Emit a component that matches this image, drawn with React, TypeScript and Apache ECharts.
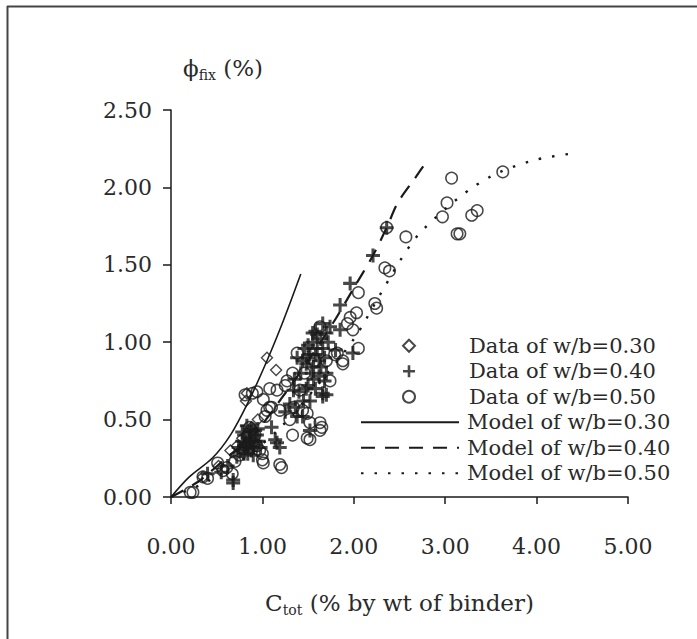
import React, { useEffect, useRef } from "react";
import * as echarts from "echarts";

const xTicks = [0, 1, 2, 3, 4, 5];
const yTicks = [0, 0.5, 1, 1.5, 2, 2.5];

const data030: number[][] = [
  [0.35, 0.13], [0.52, 0.2], [0.65, 0.3], [0.78, 0.38], [0.83, 0.67], [0.82, 0.62],
  [0.88, 0.45], [0.95, 0.5], [1.05, 0.9], [1.15, 0.82], [0.9, 0.35], [0.72, 0.33],
];

const data040: number[][] = [
  [2.21, 1.56], [2.36, 1.74], [1.96, 1.38], [1.85, 1.24], [1.58, 1.07], [1.99, 0.93],
  [1.85, 1.08], [1.55, 1.06], [1.38, 0.9], [1.66, 0.67], [1.7, 0.66], [1.38, 0.52],
  [1.52, 0.43], [1.14, 0.37], [1.19, 0.32], [1.16, 0.35], [0.68, 0.11], [0.4, 0.15],
  [0.68, 0.09], [1.34, 0.69], [1.66, 0.65],
  [0.76, 0.3], [0.8, 0.28], [0.84, 0.33], [0.88, 0.3], [0.92, 0.36], [0.8, 0.4],
  [0.86, 0.42], [0.95, 0.44], [0.98, 0.32], [0.78, 0.36], [0.9, 0.27], [0.83, 0.46], [0.72, 0.26],
  [0.82, 0.35], [0.86, 0.38], [0.9, 0.32], [0.94, 0.4], [0.78, 0.42], [0.88, 0.44],
  [0.96, 0.36], [0.74, 0.32], [0.84, 0.28], [0.8, 0.33], [0.87, 0.35], [0.92, 0.43],
  [1.42, 0.8], [1.48, 0.86], [1.52, 0.92], [1.56, 0.84], [1.6, 0.96], [1.64, 1.02],
  [1.68, 0.9], [1.72, 1.0], [1.74, 1.1], [1.62, 0.78], [1.5, 0.72], [1.45, 0.62],
  [1.58, 0.7], [1.7, 0.8], [1.46, 0.96], [1.35, 0.76], [1.66, 1.12], [1.55, 1.0],
  [1.44, 0.88], [1.5, 0.98], [1.58, 0.92], [1.62, 0.88], [1.66, 0.96], [1.7, 1.06],
  [1.54, 0.8], [1.48, 0.7], [1.4, 0.68], [1.6, 1.05], [1.68, 0.75], [1.52, 0.62],
  [1.44, 0.52], [1.36, 0.58], [1.56, 0.76], [1.64, 0.84], [1.5, 0.9],
  [1.25, 0.55], [1.1, 0.45], [0.62, 0.2], [0.55, 0.16], [1.8, 0.95], [1.3, 0.6],
];

const data050: number[][] = [
  [0.24, 0.03], [0.21, 0.03], [0.35, 0.13], [0.4, 0.12], [0.51, 0.22], [0.57, 0.17],
  [0.61, 0.19], [0.67, 0.15], [0.7, 0.23], [0.75, 0.27], [0.81, 0.66], [0.89, 0.67],
  [0.94, 0.68], [1.01, 0.63], [1.05, 0.56], [1.03, 0.52], [1.08, 0.58], [1.1, 0.58],
  [0.86, 0.45], [0.97, 0.3], [1.0, 0.24], [1.0, 0.28], [1.01, 0.22], [1.19, 0.21],
  [1.21, 0.19], [1.16, 0.69], [1.08, 0.7], [1.25, 0.72], [1.27, 0.75], [1.33, 0.8],
  [1.41, 0.69], [1.19, 0.56], [1.3, 0.5], [1.34, 0.58], [1.33, 0.4], [1.44, 0.56],
  [1.49, 0.54], [1.49, 0.38], [1.52, 0.48], [1.52, 0.37], [1.63, 0.48], [1.65, 0.45],
  [1.63, 0.43], [1.74, 0.75], [1.7, 0.88], [1.79, 0.92], [1.82, 0.93], [1.88, 0.88],
  [1.88, 0.86], [1.38, 0.93], [1.63, 1.1], [1.93, 1.12], [1.96, 1.16], [1.99, 1.08],
  [2.03, 1.19], [2.05, 0.96], [2.05, 1.32], [2.23, 1.25], [2.25, 1.22], [2.34, 1.48],
  [2.39, 1.46], [2.36, 1.74], [2.57, 1.68], [2.97, 1.81], [3.02, 1.9], [3.07, 2.06],
  [3.13, 1.7], [3.16, 1.7], [3.29, 1.82], [3.35, 1.85], [3.63, 2.1], [0.85, 0.35], [0.92, 0.4],
  [0.79, 0.31], [0.94, 0.33], [1.46, 0.8], [1.57, 0.88],
];

const model030: number[][] = [
  [0, 0], [0.2, 0.13], [0.45, 0.25], [0.65, 0.4], [0.85, 0.62], [1.05, 0.88], [1.23, 1.14], [1.42, 1.44],
];
const model040: number[][] = [
  [0, 0], [0.3, 0.1], [0.6, 0.25], [0.9, 0.4], [1.2, 0.63], [1.5, 0.88], [1.8, 1.15],
  [2.0, 1.35], [2.2, 1.55], [2.36, 1.74], [2.48, 1.9], [2.67, 2.06], [2.8, 2.17],
];
const model050: number[][] = [
  [0, 0], [0.4, 0.1], [0.8, 0.25], [1.2, 0.45], [1.6, 0.72], [2.0, 1.02], [2.3, 1.32],
  [2.5, 1.52], [2.7, 1.69], [3.0, 1.86], [3.3, 2.0], [3.6, 2.1], [4.0, 2.18], [4.4, 2.22],
];

const names = [
  "Data of w/b=0.30", "Data of w/b=0.40", "Data of w/b=0.50",
  "Model of w/b=0.30", "Model of w/b=0.40", "Model of w/b=0.50",
];

const FONT = "DejaVu Serif";
const INK = "#1a1a1a";
const TXT = "#2a2a2a";
const PLUS = "path://M4.7,0L7.3,0L7.3,4.7L12,4.7L12,7.3L7.3,7.3L7.3,12L4.7,12L4.7,7.3L0,7.3L0,4.7L4.7,4.7Z";
const ROW = 25.5;

export default function App() {
  const ref = useRef<HTMLDivElement>(null);
  useEffect(() => {
    if (!ref.current) return;
    const chart = echarts.init(ref.current, undefined, { renderer: "svg" });
    const legendText = { fontFamily: FONT, fontSize: 21, color: TXT, lineHeight: ROW };
    chart.setOption({
      animation: false,
      backgroundColor: "#fff",
      grid: { left: 171, right: 69, top: 110, bottom: 142, containLabel: false },
      xAxis: {
        type: "value",
        min: xTicks[0],
        max: xTicks[xTicks.length - 1],
        interval: 1,
        splitLine: { show: false },
        axisLine: { onZero: false, lineStyle: { color: INK, width: 1.5 } },
        axisTick: { length: 7, lineStyle: { color: INK, width: 1.5 } },
        axisLabel: {
          margin: 38,
          fontFamily: FONT,
          fontSize: 22,
          color: TXT,
          formatter: (v: number) => v.toFixed(2),
        },
        name: "{m|C}{s|tot}{m| (% by wt of binder)}",
        nameLocation: "middle",
        nameGap: 92,
        nameTextStyle: {
          rich: {
            m: { fontFamily: FONT, fontSize: 23, color: TXT, lineHeight: 28, verticalAlign: "middle" },
            s: { fontFamily: FONT, fontSize: 14, color: TXT, lineHeight: 28, verticalAlign: "bottom" },
          },
        },
      },
      yAxis: {
        type: "value",
        min: yTicks[0],
        max: yTicks[yTicks.length - 1],
        interval: 0.5,
        splitLine: { show: false },
        axisLine: { onZero: false, lineStyle: { color: INK, width: 1.5 } },
        axisTick: { length: 8, lineStyle: { color: INK, width: 1.5 } },
        axisLabel: {
          margin: 19,
          fontFamily: FONT,
          fontSize: 22,
          color: TXT,
          formatter: (v: number) => v.toFixed(2),
        },
        name: "{m|ϕ}{s|fix}{m| (%)}",
        nameLocation: "end",
        nameGap: 28,
        nameTextStyle: {
          align: "left",
          padding: [0, 0, 0, 12],
          rich: {
            m: { fontFamily: FONT, fontSize: 23, color: TXT, lineHeight: 28, verticalAlign: "middle" },
            s: { fontFamily: FONT, fontSize: 14, color: TXT, lineHeight: 28, verticalAlign: "bottom" },
          },
        },
      },
      legend: [
        {
          orient: "vertical",
          left: 402,
          top: 333,
          itemWidth: 12,
          itemHeight: 12,
          itemGap: 0,
          padding: 0,
          data: names.slice(0, 3),
          textStyle: { ...legendText, padding: [0, 0, 0, 49] },
        },
        {
          orient: "vertical",
          left: 360,
          top: 333 + 3 * ROW,
          itemWidth: 98,
          itemHeight: 12,
          itemGap: 0,
          padding: 0,
          data: names.slice(3),
          itemStyle: { opacity: 0 },
          lineStyle: { opacity: 1 },
          textStyle: { ...legendText, padding: [0, 0, 0, 3] },
        },
      ],
      graphic: [
        { type: "line", shape: { x1: 7.5, y1: 6, x2: 7.5, y2: 639 }, style: { stroke: "#444", lineWidth: 2 } },
        { type: "line", shape: { x1: 7, y1: 6.5, x2: 697, y2: 6.5 }, style: { stroke: "#444", lineWidth: 2 } },
      ],
      series: [
        {
          name: names[0], type: "scatter", data: data030, symbol: "diamond", symbolSize: 11,
          itemStyle: { color: "rgba(255,255,255,0)", borderColor: INK, borderWidth: 1.4 },
        },
        {
          name: names[1], type: "scatter", data: data040, symbol: PLUS, symbolSize: 14,
          itemStyle: { color: INK },
        },
        {
          name: names[2], type: "scatter", data: data050, symbol: "circle", symbolSize: 11.5,
          itemStyle: { color: "rgba(255,255,255,0)", borderColor: INK, borderWidth: 1.5 },
        },
        {
          name: names[3], type: "line", data: model030, symbol: "none", smooth: 0.3, z: 5,
          lineStyle: { color: INK, width: 1.6, type: "solid" }, itemStyle: { color: INK },
        },
        {
          name: names[4], type: "line", data: model040, symbol: "none", smooth: 0.3, z: 5,
          lineStyle: { color: INK, width: 2.2, type: [14, 10] }, itemStyle: { color: INK },
        },
        {
          name: names[5], type: "line", data: model050, symbol: "none", smooth: 0.3, z: 5,
          lineStyle: { color: INK, width: 2.4, type: [2.5, 11] }, itemStyle: { color: INK },
        },
      ],
    });
    return () => chart.dispose();
  }, []);
  return (
    <div
      ref={ref}
      style={{ position: "fixed", left: 0, top: 0, width: 697, height: 639, background: "#fff" }}
    />
  );
}
